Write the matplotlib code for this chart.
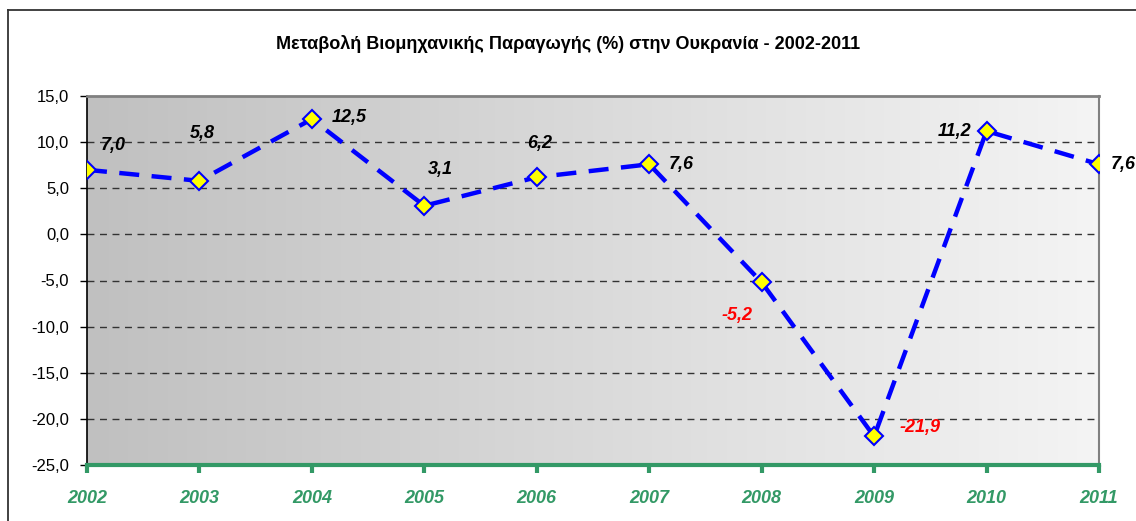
import numpy as np
import matplotlib
matplotlib.use("Agg")
import matplotlib.pyplot as plt
from matplotlib.lines import Line2D
from matplotlib.colors import LinearSegmentedColormap

years = ["2002", "2003", "2004", "2005", "2006", "2007", "2008", "2009", "2010", "2011"]
values = [7.0, 5.8, 12.5, 3.1, 6.2, 7.6, -5.2, -21.9, 11.2, 7.6]
value_labels = ["7,0", "5,8", "12,5", "3,1", "6,2", "7,6", "-5,2", "-21,9", "11,2", "7,6"]
yticks = [15, 10, 5, 0, -5, -10, -15, -20, -25]
ytick_labels = ["15,0", "10,0", "5,0", "0,0", "-5,0", "-10,0", "-15,0", "-20,0", "-25,0"]
title = "Μεταβολή Βιομηχανικής Παραγωγής (%) στην Ουκρανία - 2002-2011"

# label offsets in pixels (dx right, dy up)
label_offsets_px = [(26, 24), (3, 47), (37, 2), (16, 36), (3, 34), (32, 0), (-25, -33), (46, 9), (-32, 0), (24, 0)]

W, H, DPI = 1136, 521, 100
narrow = ["Liberation Sans Narrow", "Liberation Sans", "DejaVu Sans"]
sans = ["Liberation Sans", "DejaVu Sans"]

fig = plt.figure(figsize=(W / DPI, H / DPI), dpi=DPI)
fig.patch.set_facecolor("white")

# outer chart frame (left and top edges)
fig.add_artist(Line2D([8 / W, 8 / W], [0, 1 - 10 / H], transform=fig.transFigure, color="#333333", lw=1.3))
fig.add_artist(Line2D([8 / W, 1], [1 - 10 / H, 1 - 10 / H], transform=fig.transFigure, color="#333333", lw=1.3))

left, right, top, bottom = 87, 1099, 96, 465
ax = fig.add_axes([left / W, 1 - bottom / H, (right - left) / W, (bottom - top) / H])

x = np.arange(len(years))
ax.set_xlim(0, len(years) - 1)
ax.set_ylim(-25, 15)

# gradient background
grad = np.linspace(0, 1, 256).reshape(1, -1)
cmap = LinearSegmentedColormap.from_list("g", ["#c0c0c0", "#f4f4f4"])
ax.imshow(grad, cmap=cmap, aspect="auto", extent=[0, len(years) - 1, -25, 15], zorder=0, interpolation="bicubic")

# gridlines
for yv in yticks[1:-1]:
    ax.axhline(yv, color="#333333", lw=1.0, dashes=(5, 4), zorder=1)

line, = ax.plot(x, values, color="#0000ff", lw=3.2, zorder=3,
                marker="D", markersize=9.3, markerfacecolor="#ffff00",
                markeredgecolor="#0000ff", markeredgewidth=1.5)
line.set_dashes((4.5, 2.8))

for xi, v, lab, (dx, dy) in zip(x, values, value_labels, label_offsets_px):
    ax.annotate(lab, (xi, v), xytext=(dx * 0.72, dy * 0.72), textcoords="offset points",
                ha="center", va="center", fontsize=13, fontweight="bold", fontstyle="italic",
                family=narrow, color="#ff0000" if v < 0 else "black", zorder=5,
                annotation_clip=False)

# axes styling
ax.spines["left"].set_color("black")
ax.spines["left"].set_linewidth(1.2)
ax.spines["top"].set_color("#808080")
ax.spines["top"].set_linewidth(2.0)
ax.spines["right"].set_color("#808080")
ax.spines["right"].set_linewidth(1.5)
ax.spines["bottom"].set_color("#339966")
ax.spines["bottom"].set_linewidth(3.0)
ax.spines["bottom"].set_zorder(4)

ax.set_yticks(yticks)
ax.set_yticklabels(ytick_labels, family=sans, fontsize=12)
ax.tick_params(axis="y", length=5, width=1, color="black", pad=8)

ax.set_xticks(x)
ax.set_xticklabels(years, family=narrow, fontsize=13, fontweight="bold", fontstyle="italic", color="#339966")
ax.tick_params(axis="x", length=6, width=3, color="#339966", pad=12)

fig.text(0.5, 1 - 44 / H, title, ha="center", va="center", fontsize=13, fontweight="bold", family=narrow)

fig.savefig("out.png", dpi=DPI)
